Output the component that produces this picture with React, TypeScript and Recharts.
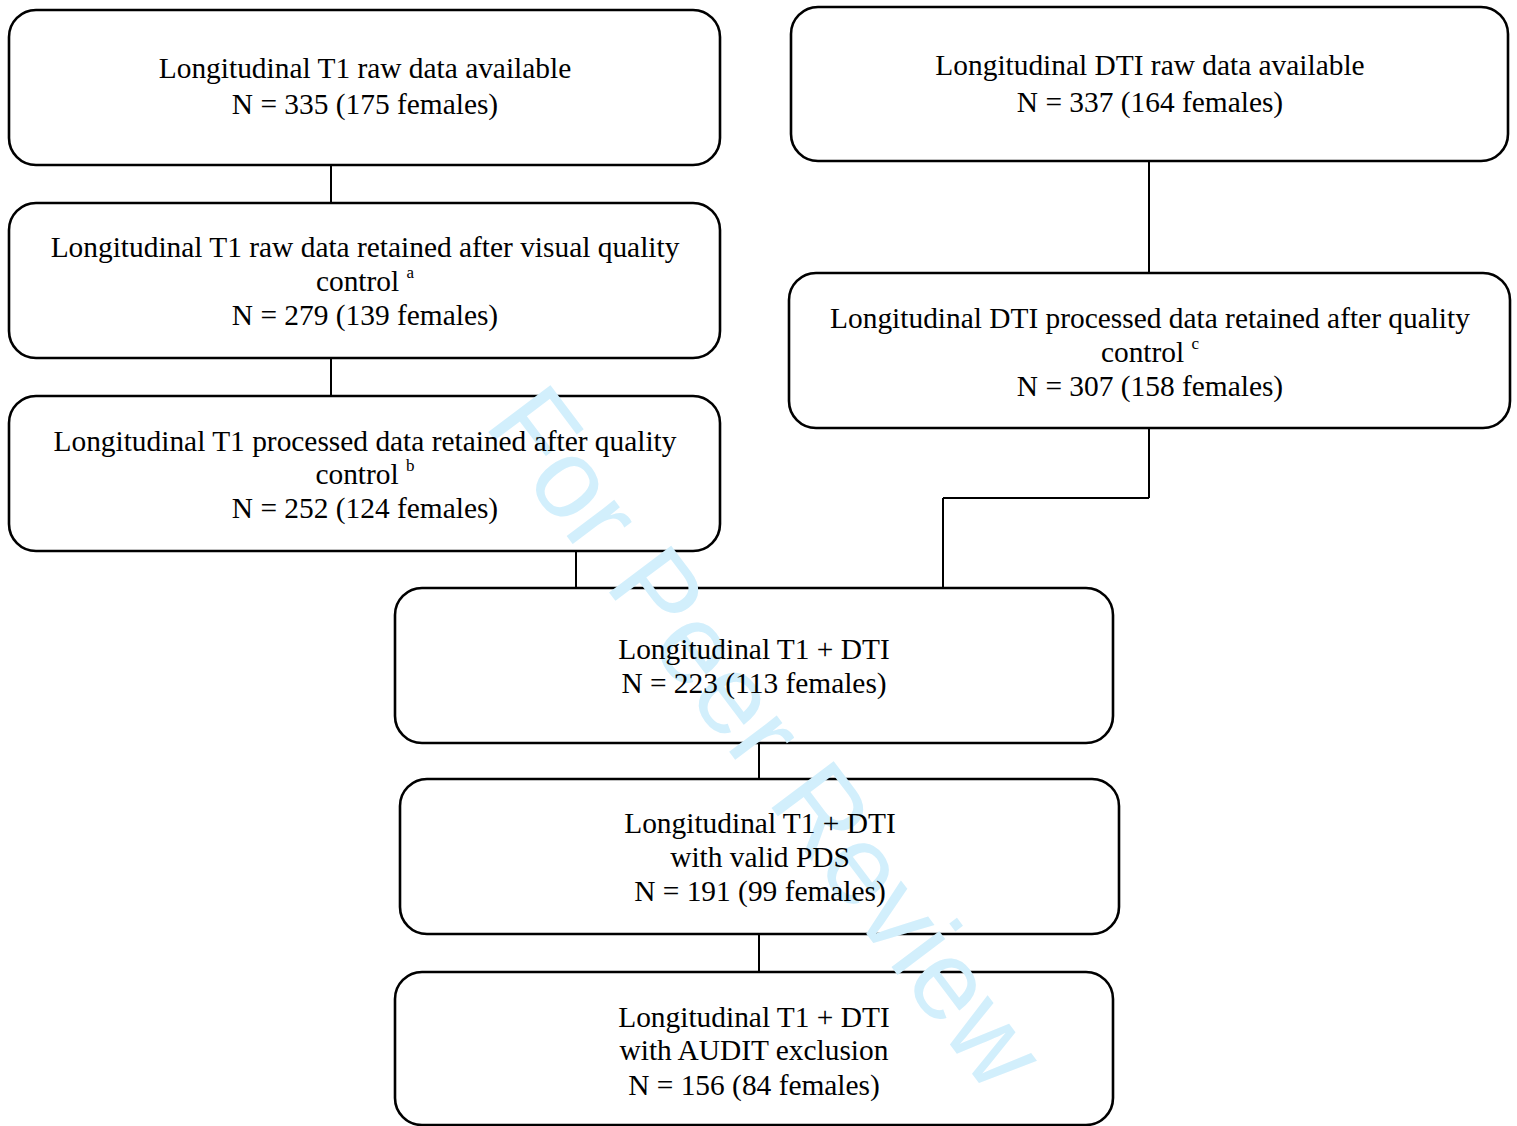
import React from 'react';
import { ComposedChart, XAxis, YAxis, ReferenceArea, ReferenceLine, Scatter } from 'recharts';

const W = 1517;
const H = 1126;

// Flowchart boxes in page coordinates (x1,x2 left/right ; y1,y2 top/bottom)
const boxes = [
  { id: 't1raw', x1: 9, x2: 720, y1: 10, y2: 165 },
  { id: 't1visual', x1: 9, x2: 720, y1: 203, y2: 358 },
  { id: 't1proc', x1: 9, x2: 720, y1: 396, y2: 551 },
  { id: 'dtiraw', x1: 791, x2: 1508, y1: 7, y2: 161 },
  { id: 'dtiproc', x1: 789, x2: 1510, y1: 273, y2: 428 },
  { id: 'both', x1: 395, x2: 1113, y1: 588, y2: 743 },
  { id: 'pds', x1: 400, x2: 1119, y1: 779, y2: 934 },
  { id: 'audit', x1: 395, x2: 1113, y1: 972, y2: 1125 },
];

// Connector segments [x1, y1, x2, y2]
const connectors = [
  [331, 165, 331, 203],
  [331, 358, 331, 396],
  [1149, 161, 1149, 273],
  [1149, 428, 1149, 498],
  [1149, 498, 943, 498],
  [943, 498, 943, 588],
  [576, 551, 576, 588],
  [759, 743, 759, 779],
  [759, 934, 759, 972],
];

// Text lines: x = centre, y = baseline
const textLines = [
  { x: 365, y: 78, text: 'Longitudinal T1 raw data available', sup: '' },
  { x: 365, y: 114, text: 'N = 335 (175 females)', sup: '' },
  { x: 365, y: 257, text: 'Longitudinal T1 raw data retained after visual quality', sup: '' },
  { x: 365, y: 291, text: 'control ', sup: 'a' },
  { x: 365, y: 325, text: 'N = 279 (139 females)', sup: '' },
  { x: 365, y: 451, text: 'Longitudinal T1 processed data retained after quality', sup: '' },
  { x: 365, y: 484, text: 'control ', sup: 'b' },
  { x: 365, y: 518, text: 'N = 252 (124 females)', sup: '' },
  { x: 1150, y: 75, text: 'Longitudinal DTI raw data available', sup: '' },
  { x: 1150, y: 112, text: 'N = 337 (164 females)', sup: '' },
  { x: 1150, y: 328, text: 'Longitudinal DTI processed data retained after quality', sup: '' },
  { x: 1150, y: 362, text: 'control ', sup: 'c' },
  { x: 1150, y: 396, text: 'N = 307 (158 females)', sup: '' },
  { x: 754, y: 659, text: 'Longitudinal T1 + DTI', sup: '' },
  { x: 754, y: 693, text: 'N = 223 (113 females)', sup: '' },
  { x: 760, y: 833, text: 'Longitudinal T1 + DTI', sup: '' },
  { x: 760, y: 867, text: 'with valid PDS', sup: '' },
  { x: 760, y: 901, text: 'N = 191 (99 females)', sup: '' },
  { x: 754, y: 1027, text: 'Longitudinal T1 + DTI', sup: '' },
  { x: 754, y: 1060, text: 'with AUDIT exclusion', sup: '' },
  { x: 754, y: 1095, text: 'N = 156 (84 females)', sup: '' },
];

const watermark = [{ x: 767, y: 737, text: 'For Peer Review', angle: 53 }];

const SERIF = "'Liberation Serif', 'Times New Roman', serif";

const TextShape = (props: any) => {
  const { cx, cy, payload } = props;
  return (
    <text x={cx} y={cy} textAnchor="middle" fontFamily={SERIF} fontSize={29.4} fill="#000">
      {payload.text}
      {payload.sup ? (
        <tspan fontSize={17} dy={-13}>
          {payload.sup}
        </tspan>
      ) : null}
    </text>
  );
};

const WatermarkShape = (props: any) => {
  const { cx, cy, payload } = props;
  return (
    <text
      x={cx}
      y={cy}
      textAnchor="middle"
      dominantBaseline="central"
      fontFamily="'Liberation Sans', Arial, sans-serif"
      fontSize={113}
      fill="#d2effc"
      transform={`rotate(${payload.angle}, ${cx}, ${cy})`}
    >
      {payload.text}
    </text>
  );
};

const BoxShape = (props: any) => {
  const { x, y, width, height } = props;
  return (
    <rect x={x} y={y} width={width} height={height} rx={27} ry={27} fill="none" stroke="#000" strokeWidth={2.6} />
  );
};

export default function App() {
  return (
    <div style={{ position: 'absolute', left: 0, top: 0, background: '#fff' }}>
      <ComposedChart width={W} height={H} margin={{ top: 0, right: 0, bottom: 0, left: 0 }} data={textLines}>
        <XAxis type="number" dataKey="x" domain={[0, W]} hide allowDataOverflow />
        <YAxis type="number" dataKey="y" domain={[0, H]} reversed hide allowDataOverflow />
        <Scatter data={watermark} shape={WatermarkShape} isAnimationActive={false} />
        {boxes.map((b) => (
          <ReferenceArea
            key={b.id}
            x1={b.x1}
            x2={b.x2}
            y1={b.y1}
            y2={b.y2}
            ifOverflow="visible"
            shape={BoxShape}
          />
        ))}
        {connectors.map((c, i) => (
          <ReferenceLine
            key={i}
            segment={[
              { x: c[0], y: c[1] },
              { x: c[2], y: c[3] },
            ]}
            stroke="#000"
            strokeWidth={2}
            ifOverflow="visible"
          />
        ))}
        <Scatter data={textLines} shape={TextShape} isAnimationActive={false} />
      </ComposedChart>
    </div>
  );
}
